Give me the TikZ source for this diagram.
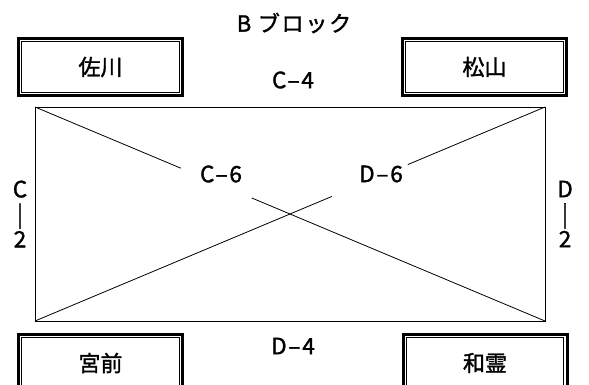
\documentclass[tikz,border=0pt]{standalone}
\usepackage{fontspec}
\setmainfont[FakeBold=1.5]{Noto Sans CJK JP}
\newfontfamily\labfont[FakeBold=1.5,LetterSpace=8]{Noto Sans CJK JP}
\usetikzlibrary{calc}
\begin{document}
\begin{tikzpicture}[x=1pt,y=-1pt]
  \tikzstyle{place}=[draw=black, line width=3pt, outer sep=0pt, fill=white, minimum width=164pt, minimum height=57pt, font=\fontsize{22}{26}\selectfont]
  \tikzstyle{inner}=[draw=black, line width=1.2pt]
  \tikzstyle{lab}=[inner sep=0pt, font=\labfont\fontsize{22.5}{25}\selectfont]
  \tikzstyle{title}=[inner sep=0pt, font=\labfont\fontsize{22}{25}\selectfont]
  \tikzstyle{edge}=[draw=black, line width=0.8pt]
  \def\gap{3.25}

  \useasboundingbox (0,0) rectangle (589,385);
  \clip (0,0) rectangle (589,385);
  \coordinate (tl) at (35,107);
  \coordinate (br) at (545,321);
  \coordinate (bl) at (tl |- br);
  \coordinate (tr) at (br |- tl);
  \draw [edge] (tl) rectangle (br);
  \coordinate (c6a) at ($(tl)!0.286!(br)$);
  \coordinate (c6b) at ($(tl)!0.425!(br)$);
  \coordinate (d6a) at ($(bl)!0.582!(tr)$);
  \coordinate (d6b) at ($(bl)!0.731!(tr)$);
  \draw [edge] (tl) -- (c6a);
  \draw [edge] (c6b) -- (br);
  \draw [edge] (bl) -- (d6a);
  \draw [edge] (d6b) -- (tr);
  \node [place] (sagawa) at (100.5,67) {佐川};
  \node [place] (matsuyama) at (484.5,67) {松山};
  \node [place] (miyamae) at (100.5,363) {宮前};
  \node [place] (warei) at (485,363) {和霊};
  \foreach \n in {sagawa,matsuyama,miyamae,warei}
    \draw [inner] ($(\n.north west)+(\gap,\gap)$) rectangle ($(\n.south east)-(\gap,\gap)$);
  \node [title] (block) at (294,23) {B ブロック};
  \node [lab] (c4) at (293,80) {C–4};
  \node [lab] (d4) at (293,346) {D–4};
  \node [lab] (c6) at (221,174) {C–6};
  \node [lab] (d6) at (381,174) {D–6};
  \node [lab,align=center] (c2) at (20,214) {C\\|\\2};
  \node [lab,align=center] (d2) at (565,214) {D\\|\\2};
\end{tikzpicture}
\end{document}
